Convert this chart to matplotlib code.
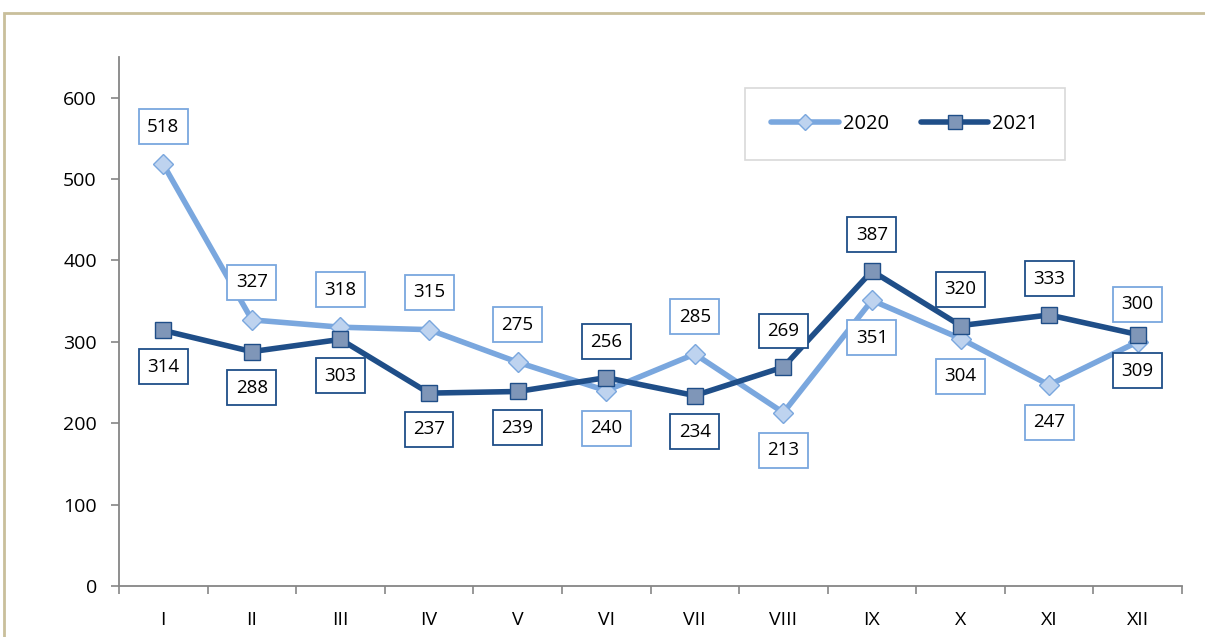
import matplotlib.pyplot as plt
from matplotlib.patches import Rectangle

months = ['I', 'II', 'III', 'IV', 'V', 'VI', 'VII', 'VIII', 'IX', 'X', 'XI', 'XII']
v2020 = [518, 327, 318, 315, 275, 240, 285, 213, 351, 304, 247, 300]
v2021 = [314, 288, 303, 237, 239, 256, 234, 269, 387, 320, 333, 309]
# label placement: +1 above, -1 below
pos2020 = [1, 1, 1, 1, 1, -1, 1, -1, -1, -1, -1, 1]
pos2021 = [-1, -1, -1, -1, -1, 1, -1, 1, 1, 1, 1, -1]

light = '#7AA7DE'
dark = '#1F4E88'
axcol = '#868686'

plt.rcParams['font.family'] = ['Open Sans', 'DejaVu Sans']

fig = plt.figure(figsize=(12.05, 6.37), dpi=100)
# outer frame
fig.patches.append(Rectangle((4 / 1205, -0.01), 1.2, 1 - 13 / 637 + 0.01,
                             transform=fig.transFigure, fill=False,
                             edgecolor='#C9BF9B', lw=2))

ax = fig.add_axes([119 / 1205, 1 - 586 / 637, (1182 - 119) / 1205, (586 - 57) / 637])
x = list(range(len(months)))

ax.plot(x, v2020, color=light, lw=4, marker='D', ms=10, mfc='#BED3EF',
        mec=light, mew=1, label='2020', zorder=3, solid_capstyle='round')
ax.plot(x, v2021, color=dark, lw=4, marker='s', ms=12, mfc='#7F96B8',
        mec=dark, mew=1, label='2021', zorder=4, solid_capstyle='round')

for xi, v, p in zip(x, v2020, pos2020):
    ax.annotate(str(v), (xi, v), xytext=(0, 27 * p), textcoords='offset points',
                ha='center', va='center', fontsize=13.5, zorder=6,
                bbox=dict(boxstyle='square,pad=0.45', fc='white', ec=light, lw=1.3))
for xi, v, p in zip(x, v2021, pos2021):
    ax.annotate(str(v), (xi, v), xytext=(0, 26 * p), textcoords='offset points',
                ha='center', va='center', fontsize=13.5, zorder=6,
                bbox=dict(boxstyle='square,pad=0.45', fc='white', ec=dark, lw=1.3))

ax.set_xlim(-0.5, 11.5)
ax.set_ylim(0, 650)
ax.set_yticks(range(0, 700, 100))
ax.set_xticks(x)
ax.set_xticklabels(months)
ax.set_xticks([i - 0.5 for i in range(13)], minor=True)
ax.tick_params(axis='x', which='major', length=0, pad=18, labelsize=14)
ax.tick_params(axis='x', which='minor', length=6, color=axcol, width=1.2, direction='out')
ax.tick_params(axis='y', length=6, color=axcol, width=1.2, labelsize=14, pad=10)

for s in ['top', 'right']:
    ax.spines[s].set_visible(False)
for s in ['left', 'bottom']:
    ax.spines[s].set_color(axcol)
    ax.spines[s].set_linewidth(1.3)

leg = ax.legend(loc='upper left', bbox_to_anchor=(626 / 1063, 1 - 31 / 529), ncol=2,
                frameon=True, fancybox=False, edgecolor='#D0D0D0', fontsize=14.5,
                handlelength=3.35, handletextpad=0.2, columnspacing=1.6,
                borderpad=1.3, borderaxespad=0, markerscale=0.8)
leg.get_frame().set_linewidth(1.2)

fig.savefig('out.png', dpi=100)
